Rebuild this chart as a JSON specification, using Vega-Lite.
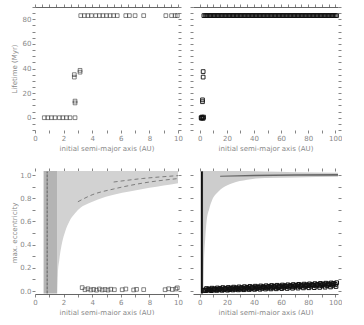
{
  "$schema": "https://vega.github.io/schema/vega-lite/v6.json",
  "padding": {"left": 10, "top": 3, "right": 0, "bottom": 0},
  "background": "white",
  "config": {
    "view": {"stroke": null},
    "axis": {
      "labelFont": "DejaVu Sans", "labelFontSize": 7, "labelColor": "#888",
      "titleFont": "DejaVu Sans", "titleFontSize": 7, "titleColor": "#888", "titleFontWeight": "normal",
      "tickColor": "#666", "domainColor": "#555", "grid": false, "tickSize": 3,
      "tickWidth": 0.8, "domainWidth": 0.9, "labelPadding": 1, "labelFlush": false, "labelOverlap": false, "labelBound": false
    }
  },
  "datasets": {
    "tl": [
      {"a": 3.2, "t": 83}, {"a": 3.45, "t": 83}, {"a": 3.7, "t": 83}, {"a": 3.95, "t": 83},
      {"a": 4.25, "t": 83}, {"a": 4.5, "t": 83}, {"a": 4.75, "t": 83}, {"a": 5.0, "t": 83}, {"a": 5.25, "t": 83}, {"a": 5.5, "t": 83}, {"a": 5.75, "t": 83},
      {"a": 6.35, "t": 83}, {"a": 6.6, "t": 83}, {"a": 7.0, "t": 83}, {"a": 7.6, "t": 83},
      {"a": 9.15, "t": 83}, {"a": 9.55, "t": 83}, {"a": 9.8, "t": 83}, {"a": 9.95, "t": 83},
      {"a": 0.65, "t": 0}, {"a": 0.9, "t": 0}, {"a": 1.15, "t": 0}, {"a": 1.4, "t": 0},
      {"a": 1.7, "t": 0}, {"a": 1.95, "t": 0}, {"a": 2.2, "t": 0}, {"a": 2.45, "t": 0}, {"a": 2.8, "t": 0},
      {"a": 2.75, "t": 33}, {"a": 2.75, "t": 35}, {"a": 3.15, "t": 37}, {"a": 3.15, "t": 38.5},
      {"a": 2.8, "t": 12}, {"a": 2.8, "t": 13.5}
    ],
    "tr": [
      {"a": 3, "t": 83}, {"a": 4, "t": 83}, {"a": 5, "t": 83}, {"a": 6, "t": 83}, {"a": 7, "t": 83}, {"a": 8, "t": 83}, {"a": 9, "t": 83}, {"a": 10, "t": 83},
      {"a": 11, "t": 83}, {"a": 12, "t": 83}, {"a": 13, "t": 83}, {"a": 14, "t": 83}, {"a": 15, "t": 83}, {"a": 16, "t": 83}, {"a": 17, "t": 83}, {"a": 18, "t": 83}, {"a": 19, "t": 83}, {"a": 20, "t": 83},
      {"a": 21, "t": 83}, {"a": 22, "t": 83}, {"a": 23, "t": 83}, {"a": 24, "t": 83}, {"a": 25, "t": 83}, {"a": 26, "t": 83}, {"a": 27, "t": 83}, {"a": 28, "t": 83}, {"a": 29, "t": 83}, {"a": 30, "t": 83},
      {"a": 31, "t": 83}, {"a": 32, "t": 83}, {"a": 33, "t": 83}, {"a": 34, "t": 83}, {"a": 35, "t": 83}, {"a": 36, "t": 83}, {"a": 37, "t": 83}, {"a": 38, "t": 83}, {"a": 39, "t": 83}, {"a": 40, "t": 83},
      {"a": 41, "t": 83}, {"a": 42, "t": 83}, {"a": 43, "t": 83}, {"a": 44, "t": 83}, {"a": 45, "t": 83}, {"a": 46, "t": 83}, {"a": 47, "t": 83}, {"a": 48, "t": 83}, {"a": 49, "t": 83}, {"a": 50, "t": 83},
      {"a": 51, "t": 83}, {"a": 52, "t": 83}, {"a": 53, "t": 83}, {"a": 54, "t": 83}, {"a": 55, "t": 83}, {"a": 56, "t": 83}, {"a": 57, "t": 83}, {"a": 58, "t": 83}, {"a": 59, "t": 83}, {"a": 60, "t": 83},
      {"a": 61, "t": 83}, {"a": 62, "t": 83}, {"a": 63, "t": 83}, {"a": 64, "t": 83}, {"a": 65, "t": 83}, {"a": 66, "t": 83}, {"a": 67, "t": 83}, {"a": 68, "t": 83}, {"a": 69, "t": 83}, {"a": 70, "t": 83},
      {"a": 71, "t": 83}, {"a": 72, "t": 83}, {"a": 73, "t": 83}, {"a": 74, "t": 83}, {"a": 75, "t": 83}, {"a": 76, "t": 83}, {"a": 77, "t": 83}, {"a": 78, "t": 83}, {"a": 79, "t": 83}, {"a": 80, "t": 83},
      {"a": 81, "t": 83}, {"a": 82, "t": 83}, {"a": 83, "t": 83}, {"a": 84, "t": 83}, {"a": 85, "t": 83}, {"a": 86, "t": 83}, {"a": 87, "t": 83}, {"a": 88, "t": 83}, {"a": 89, "t": 83}, {"a": 90, "t": 83},
      {"a": 91, "t": 83}, {"a": 92, "t": 83}, {"a": 93, "t": 83}, {"a": 94, "t": 83}, {"a": 95, "t": 83}, {"a": 96, "t": 83}, {"a": 97, "t": 83}, {"a": 98, "t": 83}, {"a": 99, "t": 83}, {"a": 100, "t": 83}, {"a": 101, "t": 83},
      {"a": 2.5, "t": 37.5}, {"a": 2.5, "t": 33}, {"a": 2.0, "t": 13}, {"a": 2.0, "t": 14.5},
      {"a": 1.0, "t": 0}, {"a": 1.6, "t": 0.5}, {"a": 2.2, "t": 0}, {"a": 2.8, "t": 0.5}, {"a": 1.3, "t": -0.5}, {"a": 2.5, "t": -0.5}
    ],
    "bl_pts": [
      {"a": 3.3, "e": 0.03}, {"a": 3.5, "e": 0.012}, {"a": 3.7, "e": 0.02}, {"a": 3.9, "e": 0.01}, {"a": 4.1, "e": 0.015},
      {"a": 4.3, "e": 0.008}, {"a": 4.5, "e": 0.018}, {"a": 4.7, "e": 0.01}, {"a": 4.9, "e": 0.014}, {"a": 5.1, "e": 0.009},
      {"a": 5.3, "e": 0.016}, {"a": 5.55, "e": 0.012}, {"a": 6.1, "e": 0.012}, {"a": 6.35, "e": 0.018}, {"a": 6.9, "e": 0.01},
      {"a": 7.1, "e": 0.015}, {"a": 7.6, "e": 0.013}, {"a": 9.1, "e": 0.012}, {"a": 9.35, "e": 0.02}, {"a": 9.6, "e": 0.014},
      {"a": 9.85, "e": 0.018}, {"a": 9.95, "e": 0.028}
    ],
    "bl_band": [
      {"a": 0.6, "lo": -0.02, "hi": 1.035}, {"a": 1.55, "lo": -0.02, "hi": 1.035}
    ],
    "bl_env": [
      {"a": 1.55, "lo": -0.02, "hi": 1.035}, {"a": 1.6, "lo": 0.15, "hi": 1.035}, {"a": 1.7, "lo": 0.27, "hi": 1.035},
      {"a": 1.9, "lo": 0.42, "hi": 1.035}, {"a": 2.1, "lo": 0.51, "hi": 1.035}, {"a": 2.4, "lo": 0.6, "hi": 1.035},
      {"a": 2.8, "lo": 0.67, "hi": 1.035}, {"a": 3.2, "lo": 0.72, "hi": 1.035}, {"a": 3.8, "lo": 0.76, "hi": 1.035},
      {"a": 4.4, "lo": 0.79, "hi": 1.035}, {"a": 5.5, "lo": 0.83, "hi": 1.035}, {"a": 6.7, "lo": 0.86, "hi": 1.035},
      {"a": 8.0, "lo": 0.89, "hi": 1.035}, {"a": 9.0, "lo": 0.91, "hi": 1.035}, {"a": 10.0, "lo": 0.93, "hi": 1.035}
    ],
    "bl_dash": [
      {"a": 3.0, "e": 0.77, "g": "A"}, {"a": 4.0, "e": 0.83, "g": "A"}, {"a": 5.5, "e": 0.88, "g": "A"}, {"a": 7.5, "e": 0.93, "g": "A"}, {"a": 10.0, "e": 0.97, "g": "A"},
      {"a": 5.5, "e": 0.94, "g": "B"}, {"a": 7.5, "e": 0.97, "g": "B"}, {"a": 10.0, "e": 0.995, "g": "B"}
    ],
    "bl_rule": [{"a": 0.85, "lo": -0.02, "hi": 1.03}],
    "br_band": [
      {"a": 1.0, "lo": -0.02, "hi": 1.035}, {"a": 2.5, "lo": -0.02, "hi": 1.035}
    ],
    "br_env": [
      {"a": 2.5, "lo": -0.02, "hi": 1.035}, {"a": 3.0, "lo": 0.23, "hi": 1.035}, {"a": 4.0, "lo": 0.45, "hi": 1.035},
      {"a": 5.0, "lo": 0.6, "hi": 1.035}, {"a": 7.0, "lo": 0.71, "hi": 1.035}, {"a": 9.0, "lo": 0.78, "hi": 1.035},
      {"a": 14.0, "lo": 0.86, "hi": 1.035}, {"a": 20.0, "lo": 0.91, "hi": 1.035}, {"a": 24.0, "lo": 0.93, "hi": 1.035},
      {"a": 35.0, "lo": 0.96, "hi": 1.035}, {"a": 48.0, "lo": 0.975, "hi": 1.03}, {"a": 70.0, "lo": 0.98, "hi": 1.025},
      {"a": 102.0, "lo": 0.985, "hi": 1.02}
    ],
    "br_top": [
      {"a": 15, "lo": 0.985, "hi": 0.995}, {"a": 40, "lo": 0.99, "hi": 1.002}, {"a": 70, "lo": 0.993, "hi": 1.006}, {"a": 102, "lo": 0.995, "hi": 1.01}
    ],
    "br_rule": [{"a": 1.5, "lo": -0.02, "hi": 1.03}],
    "br_pts": [
      {"a": 3, "e": 0.005}, {"a": 4, "e": 0.01}, {"a": 5, "e": 0.022}, {"a": 6, "e": 0.008}, {"a": 7, "e": 0.018}, {"a": 8, "e": 0.012}, {"a": 9, "e": 0.025},
      {"a": 10, "e": 0.009}, {"a": 11, "e": 0.02}, {"a": 12, "e": 0.014}, {"a": 13, "e": 0.027}, {"a": 14, "e": 0.011}, {"a": 15, "e": 0.022},
      {"a": 16, "e": 0.016}, {"a": 17, "e": 0.03}, {"a": 18, "e": 0.012}, {"a": 19, "e": 0.024}, {"a": 20, "e": 0.018}, {"a": 21, "e": 0.031},
      {"a": 22, "e": 0.013}, {"a": 23, "e": 0.026}, {"a": 24, "e": 0.02}, {"a": 25, "e": 0.034}, {"a": 26, "e": 0.015}, {"a": 27, "e": 0.028},
      {"a": 28, "e": 0.021}, {"a": 29, "e": 0.036}, {"a": 30, "e": 0.017}, {"a": 31, "e": 0.03}, {"a": 32, "e": 0.023}, {"a": 33, "e": 0.038},
      {"a": 34, "e": 0.018}, {"a": 35, "e": 0.032}, {"a": 36, "e": 0.025}, {"a": 37, "e": 0.04}, {"a": 38, "e": 0.02}, {"a": 39, "e": 0.034},
      {"a": 40, "e": 0.027}, {"a": 41, "e": 0.042}, {"a": 42, "e": 0.022}, {"a": 43, "e": 0.036}, {"a": 44, "e": 0.029}, {"a": 45, "e": 0.044},
      {"a": 46, "e": 0.024}, {"a": 47, "e": 0.038}, {"a": 48, "e": 0.031}, {"a": 49, "e": 0.046}, {"a": 50, "e": 0.026}, {"a": 51, "e": 0.04},
      {"a": 52, "e": 0.033}, {"a": 53, "e": 0.048}, {"a": 54, "e": 0.028}, {"a": 55, "e": 0.042}, {"a": 56, "e": 0.035}, {"a": 57, "e": 0.05},
      {"a": 58, "e": 0.03}, {"a": 59, "e": 0.044}, {"a": 60, "e": 0.037}, {"a": 61, "e": 0.052}, {"a": 62, "e": 0.032}, {"a": 63, "e": 0.046},
      {"a": 64, "e": 0.039}, {"a": 65, "e": 0.054}, {"a": 66, "e": 0.034}, {"a": 67, "e": 0.048}, {"a": 68, "e": 0.041}, {"a": 69, "e": 0.056},
      {"a": 70, "e": 0.036}, {"a": 71, "e": 0.05}, {"a": 72, "e": 0.043}, {"a": 73, "e": 0.058}, {"a": 74, "e": 0.038}, {"a": 75, "e": 0.052},
      {"a": 76, "e": 0.045}, {"a": 77, "e": 0.06}, {"a": 78, "e": 0.04}, {"a": 79, "e": 0.054}, {"a": 80, "e": 0.047}, {"a": 81, "e": 0.062},
      {"a": 82, "e": 0.042}, {"a": 83, "e": 0.056}, {"a": 84, "e": 0.049}, {"a": 85, "e": 0.064}, {"a": 86, "e": 0.044}, {"a": 87, "e": 0.058},
      {"a": 88, "e": 0.051}, {"a": 89, "e": 0.066}, {"a": 90, "e": 0.046}, {"a": 91, "e": 0.06}, {"a": 92, "e": 0.053}, {"a": 93, "e": 0.068},
      {"a": 94, "e": 0.048}, {"a": 95, "e": 0.062}, {"a": 96, "e": 0.055}, {"a": 97, "e": 0.07}, {"a": 98, "e": 0.05}, {"a": 99, "e": 0.064},
      {"a": 100, "e": 0.057}, {"a": 101, "e": 0.072},
      {"a": 4.5, "e": 0.004}, {"a": 6.5, "e": 0.014}, {"a": 8.5, "e": 0.004}, {"a": 10.5, "e": 0.016}, {"a": 12.5, "e": 0.006}, {"a": 14.5, "e": 0.018},
      {"a": 16.5, "e": 0.007}, {"a": 18.5, "e": 0.02}, {"a": 20.5, "e": 0.008}, {"a": 22.5, "e": 0.022}, {"a": 24.5, "e": 0.01}, {"a": 26.5, "e": 0.024},
      {"a": 28.5, "e": 0.011}, {"a": 30.5, "e": 0.026}, {"a": 32.5, "e": 0.012}, {"a": 34.5, "e": 0.028}, {"a": 36.5, "e": 0.014}, {"a": 38.5, "e": 0.03},
      {"a": 40.5, "e": 0.015}, {"a": 42.5, "e": 0.032}, {"a": 44.5, "e": 0.016}, {"a": 46.5, "e": 0.034}, {"a": 48.5, "e": 0.018}, {"a": 50.5, "e": 0.036},
      {"a": 52.5, "e": 0.019}, {"a": 54.5, "e": 0.038}, {"a": 56.5, "e": 0.02}, {"a": 58.5, "e": 0.04}, {"a": 60.5, "e": 0.022}, {"a": 62.5, "e": 0.042},
      {"a": 64.5, "e": 0.023}, {"a": 66.5, "e": 0.044}, {"a": 68.5, "e": 0.025}, {"a": 70.5, "e": 0.046}, {"a": 72.5, "e": 0.026}, {"a": 74.5, "e": 0.048},
      {"a": 76.5, "e": 0.028}, {"a": 78.5, "e": 0.05}, {"a": 80.5, "e": 0.029}, {"a": 82.5, "e": 0.052}, {"a": 84.5, "e": 0.03}, {"a": 86.5, "e": 0.054},
      {"a": 88.5, "e": 0.032}, {"a": 90.5, "e": 0.056}, {"a": 92.5, "e": 0.034}, {"a": 94.5, "e": 0.06}, {"a": 96.5, "e": 0.036}, {"a": 98.5, "e": 0.064},
      {"a": 100.5, "e": 0.04}
    ]
  },
  "spacing": 16,
  "vconcat": [
    {
      "spacing": 6,
      "hconcat": [
        {
          "width": 143, "height": 123,
          "resolve": {"axis": {"x": "independent", "y": "independent"}},
          "layer": [
            {
              "data": {"name": "tl"},
              "mark": {"type": "point", "shape": "square", "filled": false, "size": 14, "strokeWidth": 0.6, "color": "#333", "opacity": 1},
              "encoding": {
                "x": {"field": "a", "type": "quantitative", "scale": {"domain": [0, 10], "nice": false, "zero": false},
                  "axis": {"orient": "bottom", "domain": false, "values": [0, 1, 2, 3, 4, 5, 6, 7, 8, 9, 10], "labelExpr": "datum.value % 2 == 0 ? datum.label : ''", "title": "initial semi-major axis (AU)", "titlePadding": 3}},
                "y": {"field": "t", "type": "quantitative", "scale": {"domain": [-10, 90], "nice": false, "zero": false},
                  "axis": {"orient": "left", "domain": false, "values": [-10, -5, 0, 5, 10, 15, 20, 25, 30, 35, 40, 45, 50, 55, 60, 65, 70, 75, 80, 85, 90], "labelExpr": "datum.value % 20 == 0 ? datum.label : ''", "title": "Lifetime (Myr)", "minExtent": 14, "maxExtent": 14, "titlePadding": 4}}
              }
            },
            {
              "data": {"name": "tl"},
              "mark": {"type": "point", "opacity": 0},
              "encoding": {
                "x": {"field": "a", "type": "quantitative", "axis": {"orient": "top", "domain": true, "labels": false, "title": null, "values": [0, 0.5, 1, 1.5, 2, 2.5, 3, 3.5, 4, 4.5, 5, 5.5, 6, 6.5, 7, 7.5, 8, 8.5, 9, 9.5, 10]}},
                "y": {"field": "t", "type": "quantitative", "axis": {"orient": "right", "domain": false, "labels": false, "title": null, "values": [-10, -5, 0, 5, 10, 15, 20, 25, 30, 35, 40, 45, 50, 55, 60, 65, 70, 75, 80, 85, 90]}}
              }
            }
          ]
        },
        {
          "width": 145, "height": 123,
          "resolve": {"axis": {"x": "independent", "y": "independent"}},
          "layer": [
            {
              "data": {"name": "tr"},
              "mark": {"type": "point", "shape": "square", "filled": false, "size": 14, "strokeWidth": 0.9, "color": "#111", "opacity": 1},
              "encoding": {
                "x": {"field": "a", "type": "quantitative", "scale": {"domain": [-5, 102], "nice": false, "zero": false},
                  "axis": {"orient": "bottom", "domain": false, "values": [0, 10, 20, 30, 40, 50, 60, 70, 80, 90, 100], "labelExpr": "datum.value % 20 == 0 ? datum.label : ''", "title": "initial semi-major axis (AU)", "titlePadding": 3}},
                "y": {"field": "t", "type": "quantitative", "scale": {"domain": [-10, 90], "nice": false, "zero": false},
                  "axis": {"orient": "left", "domain": false, "labels": false, "title": null, "values": [-10, -5, 0, 5, 10, 15, 20, 25, 30, 35, 40, 45, 50, 55, 60, 65, 70, 75, 80, 85, 90]}}
              }
            },
            {
              "data": {"name": "tr"},
              "mark": {"type": "point", "opacity": 0},
              "encoding": {
                "x": {"field": "a", "type": "quantitative", "axis": {"orient": "top", "domain": true, "labels": false, "title": null, "values": [0, 5, 10, 15, 20, 25, 30, 35, 40, 45, 50, 55, 60, 65, 70, 75, 80, 85, 90, 95, 100]}},
                "y": {"field": "t", "type": "quantitative", "axis": {"orient": "right", "domain": false, "labels": false, "title": null, "values": [-10, -5, 0, 5, 10, 15, 20, 25, 30, 35, 40, 45, 50, 55, 60, 65, 70, 75, 80, 85, 90]}}
              }
            }
          ]
        }
      ]
    },
    {
      "spacing": 6,
      "hconcat": [
        {
          "width": 143, "height": 123,
          "resolve": {"axis": {"x": "independent", "y": "independent"}},
          "layer": [
            {
              "data": {"name": "bl_env"},
              "mark": {"type": "area", "color": "#d2d2d2", "opacity": 1, "interpolate": "monotone"},
              "encoding": {
                "x": {"field": "a", "type": "quantitative", "scale": {"domain": [0, 10], "nice": false, "zero": false},
                  "axis": {"orient": "bottom", "domain": true, "values": [0, 1, 2, 3, 4, 5, 6, 7, 8, 9, 10], "labelExpr": "datum.value % 2 == 0 ? datum.label : ''", "title": "initial semi-major axis (AU)", "titlePadding": 3}},
                "y": {"field": "lo", "type": "quantitative", "scale": {"domain": [-0.025, 1.035], "nice": false, "zero": false},
                  "axis": {"orient": "left", "domain": false, "values": [0, 0.1, 0.2, 0.3, 0.4, 0.5, 0.6, 0.7, 0.8, 0.9, 1.0], "labelExpr": "round(datum.value * 10) % 2 == 0 ? format(datum.value, '.1f') : ''", "title": "max. eccentricity", "minExtent": 14, "maxExtent": 14, "titlePadding": 4}},
                "y2": {"field": "hi"}
              }
            },
            {
              "data": {"name": "bl_band"},
              "mark": {"type": "area", "color": "#b4b4b4", "opacity": 1},
              "encoding": {
                "x": {"field": "a", "type": "quantitative", "axis": null},
                "y": {"field": "lo", "type": "quantitative", "axis": null},
                "y2": {"field": "hi"}
              }
            },
            {
              "data": {"name": "bl_rule"},
              "mark": {"type": "rule", "color": "#555", "strokeWidth": 0.9, "strokeDash": [3, 1]},
              "encoding": {
                "x": {"field": "a", "type": "quantitative", "axis": null},
                "y": {"field": "lo", "type": "quantitative", "axis": null},
                "y2": {"field": "hi"}
              }
            },
            {
              "data": {"name": "bl_dash"},
              "mark": {"type": "line", "color": "#666", "strokeWidth": 0.8, "strokeDash": [4, 3], "interpolate": "monotone"},
              "encoding": {
                "x": {"field": "a", "type": "quantitative", "axis": null},
                "y": {"field": "e", "type": "quantitative", "axis": null},
                "detail": {"field": "g"}
              }
            },
            {
              "data": {"name": "bl_pts"},
              "mark": {"type": "point", "shape": "square", "filled": false, "size": 14, "strokeWidth": 0.6, "color": "#333", "opacity": 1},
              "encoding": {
                "x": {"field": "a", "type": "quantitative", "axis": null},
                "y": {"field": "e", "type": "quantitative", "axis": null}
              }
            },
            {
              "data": {"name": "bl_pts"},
              "mark": {"type": "point", "opacity": 0},
              "encoding": {
                "x": {"field": "a", "type": "quantitative", "axis": {"orient": "top", "domain": false, "labels": false, "title": null, "values": [0, 1, 2, 3, 4, 5, 6, 7, 8, 9, 10]}},
                "y": {"field": "e", "type": "quantitative", "axis": {"orient": "right", "domain": false, "labels": false, "title": null, "values": [0, 0.1, 0.2, 0.3, 0.4, 0.5, 0.6, 0.7, 0.8, 0.9, 1.0]}}
              }
            }
          ]
        },
        {
          "width": 145, "height": 123,
          "resolve": {"axis": {"x": "independent", "y": "independent"}},
          "layer": [
            {
              "data": {"name": "br_env"},
              "mark": {"type": "area", "color": "#cdcdcd", "opacity": 1, "interpolate": "monotone"},
              "encoding": {
                "x": {"field": "a", "type": "quantitative", "scale": {"domain": [-5, 102], "nice": false, "zero": false},
                  "axis": {"orient": "bottom", "domain": true, "values": [0, 10, 20, 30, 40, 50, 60, 70, 80, 90, 100], "labelExpr": "datum.value % 20 == 0 ? datum.label : ''", "title": "initial semi-major axis (AU)", "titlePadding": 3}},
                "y": {"field": "lo", "type": "quantitative", "scale": {"domain": [-0.025, 1.035], "nice": false, "zero": false},
                  "axis": {"orient": "left", "domain": false, "labels": false, "title": null, "values": [0, 0.1, 0.2, 0.3, 0.4, 0.5, 0.6, 0.7, 0.8, 0.9, 1.0]}},
                "y2": {"field": "hi"}
              }
            },
            {
              "data": {"name": "br_top"},
              "mark": {"type": "area", "color": "#666", "opacity": 1},
              "encoding": {
                "x": {"field": "a", "type": "quantitative", "axis": null},
                "y": {"field": "lo", "type": "quantitative", "axis": null},
                "y2": {"field": "hi"}
              }
            },
            {
              "data": {"name": "br_band"},
              "mark": {"type": "area", "color": "#888", "opacity": 1},
              "encoding": {
                "x": {"field": "a", "type": "quantitative", "axis": null},
                "y": {"field": "lo", "type": "quantitative", "axis": null},
                "y2": {"field": "hi"}
              }
            },
            {
              "data": {"name": "br_rule"},
              "mark": {"type": "rule", "color": "#111", "strokeWidth": 2},
              "encoding": {
                "x": {"field": "a", "type": "quantitative", "axis": null},
                "y": {"field": "lo", "type": "quantitative", "axis": null},
                "y2": {"field": "hi"}
              }
            },
            {
              "data": {"name": "br_pts"},
              "mark": {"type": "point", "shape": "square", "filled": false, "size": 14, "strokeWidth": 1, "color": "#111", "opacity": 1},
              "encoding": {
                "x": {"field": "a", "type": "quantitative", "axis": null},
                "y": {"field": "e", "type": "quantitative", "axis": null}
              }
            },
            {
              "data": {"name": "br_pts"},
              "mark": {"type": "point", "opacity": 0},
              "encoding": {
                "x": {"field": "a", "type": "quantitative", "axis": {"orient": "top", "domain": false, "labels": false, "title": null, "values": [0, 10, 20, 30, 40, 50, 60, 70, 80, 90, 100]}},
                "y": {"field": "e", "type": "quantitative", "axis": {"orient": "right", "domain": false, "labels": false, "title": null, "values": [0, 0.1, 0.2, 0.3, 0.4, 0.5, 0.6, 0.7, 0.8, 0.9, 1.0]}}
              }
            }
          ]
        }
      ]
    }
  ]
}
